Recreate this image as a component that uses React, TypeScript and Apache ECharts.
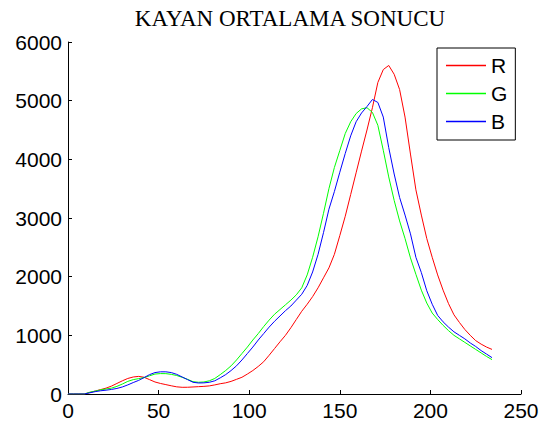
import React, { useEffect, useRef } from "react";
import * as echarts from "echarts";

const titleText = "KAYAN ORTALAMA SONUCU";
const seriesNames = ["R", "G", "B"];
const seriesColors = ["#ff0000", "#00ff00", "#0000ff"];

const xs = [
  0, 3, 6, 9, 12, 15, 18, 21, 24, 27, 30, 33, 36, 39, 42, 45, 48, 51, 54, 57,
  60, 63, 66, 69, 72, 75, 78, 81, 84, 87, 90, 93, 96, 99, 102, 105, 108, 111,
  114, 117, 120, 123, 126, 129, 132, 135, 138, 141, 144, 147, 150, 153, 156,
  159, 162, 165, 168, 171, 174, 177, 180, 183, 186, 189, 192, 195, 198, 201,
  204, 207, 210, 213, 216, 219, 222, 225, 228, 231, 234,
];

const redValues = [
  0, 0, 0, 0, 25, 50, 75, 100, 135, 180, 225, 265, 290, 300, 285, 245, 205,
  180, 160, 140, 122, 114, 115, 120, 125, 130, 138, 155, 175, 190, 215, 250,
  285, 340, 400, 470, 550, 660, 775, 890, 1000, 1130, 1270, 1410, 1530, 1660,
  1810, 1980, 2150, 2380, 2700, 3030, 3400, 3770, 4140, 4500, 4880, 5310, 5530,
  5600, 5450, 5190, 4720, 4090, 3480, 3050, 2650, 2330, 2030, 1770, 1540, 1350,
  1220, 1100, 1000, 910, 850, 800, 760,
];

const greenValues = [
  0, 0, 0, 0, 30, 50, 70, 85, 100, 130, 170, 215, 245, 262, 280, 310, 340, 348,
  347, 335, 315, 285, 250, 210, 200, 205, 225, 265, 330, 400, 480, 580, 690,
  800, 920, 1030, 1150, 1260, 1360, 1440, 1520, 1600, 1690, 1810, 2030, 2330,
  2680, 3080, 3500, 3860, 4150, 4440, 4640, 4780, 4860, 4880, 4800, 4580, 4154,
  3700, 3300, 2950, 2650, 2320, 2040, 1770, 1550, 1380, 1270, 1170, 1080, 1000,
  940, 880, 820, 760, 700, 640, 586,
];

const blueValues = [
  0, 0, 0, 0, 20, 40, 55, 65, 78, 95, 120, 155, 195, 232, 280, 330, 365, 378,
  378, 365, 335, 290, 245, 200, 188, 190, 200, 225, 275, 330, 400, 480, 580,
  690, 800, 920, 1030, 1140, 1240, 1330, 1420, 1500, 1600, 1700, 1850, 2080,
  2380, 2750, 3150, 3450, 3780, 4100, 4400, 4640, 4790, 4900, 5020, 4970, 4720,
  4200, 3750, 3350, 3050, 2730, 2330, 2070, 1760, 1530, 1340, 1230, 1140, 1060,
  1000, 940, 870, 810, 740, 680, 620,
];

const allValues = [redValues, greenValues, blueValues];

const SANS = "'Liberation Sans', Arial, Helvetica, sans-serif";
const SERIF = "'Liberation Serif', 'Times New Roman', serif";

export default function App() {
  const ref = useRef<HTMLDivElement>(null);

  useEffect(() => {
    if (!ref.current) return;
    const chart = echarts.init(ref.current, undefined, { renderer: "svg" });
    const axisCommon = {
      axisLine: { show: true, lineStyle: { color: "#000", width: 1 } },
      axisTick: { show: true, inside: true, length: 4, lineStyle: { color: "#000" } },
      splitLine: { show: false },
      axisLabel: {
        color: "#000",
        fontSize: 21,
        fontFamily: SANS,
        margin: 6,
        formatter: (v: number) => String(v),
      },
    };
    chart.setOption({
      animation: false,
      backgroundColor: "#fff",
      graphic: [
        {
          type: "text",
          x: 290,
          y: 18,
          style: {
            text: titleText,
            font: `23px ${SERIF}`,
            fill: "#000",
            textAlign: "center",
            textVerticalAlign: "middle",
          },
        },
      ],
      grid: { left: 68, right: 26, top: 42, bottom: 33, containLabel: false },
      xAxis: { type: "value", min: 0, max: 250, interval: 50, ...axisCommon },
      yAxis: { type: "value", min: 0, max: 6000, interval: 1000, ...axisCommon },
      legend: {
        orient: "vertical",
        left: 437,
        top: 48,
        padding: [7, 8, 8, 9],
        icon: "rect",
        itemWidth: 40,
        itemHeight: 1.5,
        itemGap: 7,
        borderColor: "#000",
        borderWidth: 1,
        backgroundColor: "#fff",
        textStyle: { color: "#000", fontSize: 21, fontFamily: SANS },
        data: seriesNames,
      },
      series: seriesNames.map((name, i) => ({
        name,
        type: "line",
        symbol: "none",
        smooth: false,
        color: seriesColors[i],
        lineStyle: { color: seriesColors[i], width: 1 },
        data: xs.map((x, j) => [x, allValues[i][j]]),
      })),
    });
    return () => chart.dispose();
  }, []);

  return (
    <div
      ref={ref}
      style={{ position: "fixed", left: 0, top: 0, width: 547, height: 427 }}
    />
  );
}
